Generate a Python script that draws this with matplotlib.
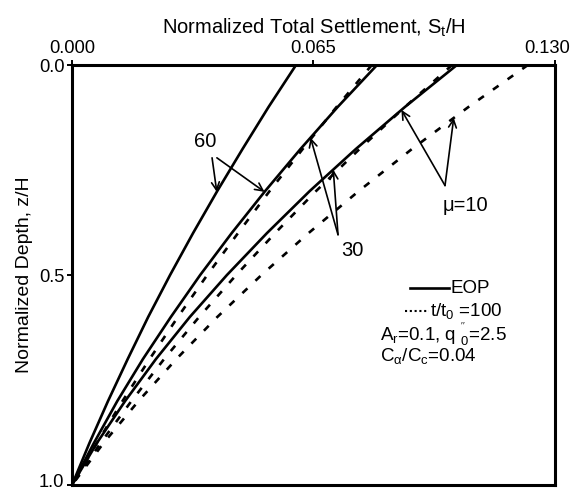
import numpy as np
import matplotlib
matplotlib.use('Agg')
import matplotlib.pyplot as plt
from matplotlib.transforms import ScaledTranslation

plt.rcParams.update({
    'font.family': 'Liberation Sans', 'font.size': 14,
    'mathtext.default': 'regular', 'axes.linewidth': 2.2,
})

# normalized depth z/H
depth = [0.0, 0.1, 0.2, 0.3, 0.4, 0.5, 0.6, 0.7, 0.8, 0.9, 1.0]
# normalized total settlement St/H, EOP
eop_60 = [0.0603, 0.0529, 0.0459, 0.0391, 0.0326, 0.0264, 0.0205, 0.0150, 0.0097, 0.0047, 0.0]
eop_30 = [0.0821, 0.0715, 0.0615, 0.0520, 0.0430, 0.0345, 0.0266, 0.0191, 0.0122, 0.0059, 0.0]
eop_10 = [0.1036, 0.0896, 0.0764, 0.0640, 0.0525, 0.0417, 0.0317, 0.0226, 0.0143, 0.0067, 0.0]
# t/t0 = 100
t100_60 = [0.0807, 0.0712, 0.0621, 0.0532, 0.0447, 0.0364, 0.0285, 0.0209, 0.0136, 0.0067, 0.0]
t100_30 = [0.1023, 0.0896, 0.0774, 0.0657, 0.0547, 0.0442, 0.0342, 0.0248, 0.0160, 0.0077, 0.0]
t100_10 = [0.1227, 0.1067, 0.0915, 0.0772, 0.0637, 0.0510, 0.0391, 0.0281, 0.0179, 0.0085, 0.0]

xticks = [0.0, 0.065, 0.13]
yticks = [0.0, 0.5, 1.0]

fig = plt.figure(figsize=(5.76, 4.91), dpi=100)
ax = fig.add_axes([0.125, 0.0122, 0.8385, 0.8554])

dash = (0, (2.6, 4.2))
for s in (eop_60, eop_30, eop_10):
    ax.plot(s, depth, color='black', lw=1.9)
for s in (t100_60, t100_30, t100_10):
    ax.plot(s, depth, color='black', lw=1.9, ls=dash)

ax.set_xlim(0, 0.13)
ax.set_ylim(1.0, 0.0)
ax.xaxis.tick_top()
ax.xaxis.set_label_position('top')
ax.set_xticks(xticks, ['%.3f' % v for v in xticks])
ax.set_yticks(yticks, ['%.1f' % v for v in yticks])
ax.tick_params(direction='out', length=3.5, width=1.4, pad=2, labelsize=13.2)
ax.set_xlabel('Normalized Total Settlement, S$_t$/H', fontsize=14.5, labelpad=5)
ax.set_ylabel('Normalized Depth, z/H', fontsize=14, labelpad=4)

# keep edge tick labels inside the canvas
lab = ax.get_xticklabels()[-1]
lab.set_transform(lab.get_transform() + ScaledTranslation(-6 / 72, 0, fig.dpi_scale_trans))
lab = ax.get_yticklabels()[-1]
lab.set_transform(lab.get_transform() + ScaledTranslation(0, 3 / 72, fig.dpi_scale_trans))

# annotations with arrows pointing to the curves
arr = dict(arrowstyle='->', color='black', lw=1.2, shrinkA=0, shrinkB=0)
def tip(curve, z):
    return (np.interp(z, depth, curve), z)

ax.annotate('', xy=tip(eop_60, 0.302), xytext=(0.0377, 0.221), arrowprops=arr)
ax.annotate('', xy=tip(eop_30, 0.302), xytext=(0.0390, 0.221), arrowprops=arr)
ax.text(0.0358, 0.181, '60', ha='center', va='center', fontsize=14.5)

ax.annotate('', xy=tip(eop_30, 0.173), xytext=(0.0716, 0.404), arrowprops=arr)
ax.annotate('', xy=tip(eop_10, 0.249), xytext=(0.0716, 0.404), arrowprops=arr)
ax.text(0.0756, 0.441, '30', ha='center', va='center', fontsize=14.5)

ax.annotate('', xy=tip(eop_10, 0.107), xytext=(0.1004, 0.287), arrowprops=arr)
ax.annotate('', xy=tip(t100_10, 0.126), xytext=(0.1004, 0.287), arrowprops=arr)
ax.text(0.1058, 0.335, 'μ=10', ha='center', va='center', fontsize=14.5)

# legend
ax.plot([0.0910, 0.1015], [0.532, 0.532], color='black', lw=1.9)
ax.text(0.1020, 0.532, 'EOP', ha='left', va='center', fontsize=13.5)
ax.plot([0.0896, 0.0962], [0.586, 0.586], color='black', lw=1.5, ls=(0, (1, 1.3)))
ax.text(0.0964, 0.586, 't/t$_0$ =100', ha='left', va='center', fontsize=13.5)
ax.text(0.0828, 0.641, 'A$_r$=0.1, q $^{\'\'}_0$=2.5', ha='left', va='center', fontsize=13.5)
ax.text(0.0828, 0.694, r'C$_\alpha$/C$_c$=0.04', ha='left', va='center', fontsize=13.5)

fig.savefig('out.png', dpi=100)
